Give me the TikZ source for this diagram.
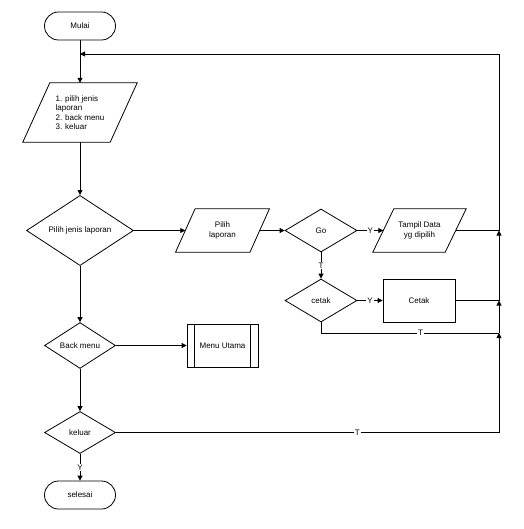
\documentclass[tikz,border=0pt]{standalone}
\usepackage{fontspec}
\setmainfont{Liberation Sans}
\usetikzlibrary{shapes.geometric,arrows.meta}
\begin{document}
\tikzset{
  base/.style={font=\fontsize{8}{9.5}\selectfont, inner sep=0pt, align=center},
  term/.style={base, draw, line width=0.8pt, rounded corners=14pt, minimum width=71pt, minimum height=28pt},
  dec/.style={base, draw, line width=0.8pt, diamond, minimum height=43pt},
  io/.style={base},
  proc/.style={base, draw, line width=0.8pt, minimum width=72pt, minimum height=43pt},
  shapeline/.style={line width=0.8pt},
  flow/.style={line width=0.8pt, -{Triangle[length=5pt,width=5pt]}},
  plain/.style={line width=0.8pt},
  lbl/.style={font=\fontsize{8}{9.5}\selectfont, fill=white, inner sep=1pt}
}
\begin{tikzpicture}[x=1pt,y=-1pt]
\useasboundingbox (0,0) rectangle (523,529);

% nodes
\node[term] (mulai) at (80,26) {Mulai};
\node[io, minimum width=87pt, minimum height=59pt, align=left] (p1) at (80,112.5) {1. pilih jenis\\laporan\\2. back menu\\3. keluar};
\draw[shapeline] ([xshift=13.5pt]p1.north west) -- ([xshift=13.5pt]p1.north east) -- ([xshift=-13.5pt]p1.south east) -- ([xshift=-13.5pt]p1.south west) -- cycle;

\node[dec, minimum width=107pt, minimum height=63pt] (d1) at (80,230.5) {Pilih jenis laporan};

\node[io, minimum width=74pt, minimum height=43pt] (pl) at (222.5,230.5) {Pilih\\laporan};
\draw[shapeline] ([xshift=9.75pt]pl.north west) -- ([xshift=9.75pt]pl.north east) -- ([xshift=-9.75pt]pl.south east) -- ([xshift=-9.75pt]pl.south west) -- cycle;

\node[dec, minimum width=72pt] (go) at (321,230.5) {Go};

\node[io, minimum width=72pt, minimum height=43pt] (td) at (419.5,230.5) {Tampil Data\\yg dipilih};
\draw[shapeline] ([xshift=10.5pt]td.north west) -- ([xshift=10.5pt]td.north east) -- ([xshift=-10.5pt]td.south east) -- ([xshift=-10.5pt]td.south west) -- cycle;

\node[dec, minimum width=72pt] (ck) at (321,300.5) {cetak};
\node[proc] (cetak) at (419,300.5) {Cetak};

\node[dec, minimum width=71pt] (bm) at (80,345.5) {Back menu};
\node[proc, minimum width=71pt] (mu) at (222.5,345.5) {Menu Utama};
\draw[shapeline] ([xshift=8pt]mu.north west) -- ([xshift=8pt]mu.south west);
\draw[shapeline] ([xshift=-8pt]mu.north east) -- ([xshift=-8pt]mu.south east);

\node[dec, minimum width=71pt, minimum height=42pt] (kel) at (80,432.5) {keluar};
\node[term] (selesai) at (80,495) {selesai};

% junctions on the right return line
\coordinate (jt) at (499,54);
\coordinate (j1) at (499,230.5);
\coordinate (j2) at (499,300.5);
\coordinate (j3) at (499,333);
\coordinate (j4) at (499,432.5);

% connectors
\draw[flow] (mulai) -- (p1);
\draw[flow] (p1) -- (d1);
\draw[flow] (d1) -- (pl);
\draw[flow] (pl) -- (go);
\draw[flow] (go) -- node[lbl]{Y} (td);
\draw[flow] (go) -- node[lbl]{T} (ck);
\draw[flow] (ck) -- node[lbl]{Y} (cetak);
\draw[plain] (td.east) -- (j1);
\draw[plain] (cetak.east) -- (j2);
\draw[plain] (ck.south) |- node[lbl,pos=0.78]{T} (j3);
\draw[plain] (kel.east) -- node[lbl,pos=0.63]{T} (j4);
\draw[flow] (j4) -- (j3);
\draw[flow] (j3) -- (j2);
\draw[flow] (j2) -- (j1);
\draw[flow] (j1) -- (jt) -- (mulai.south |- jt);
\draw[flow] (d1) -- (bm);
\draw[flow] (bm) -- (mu);
\draw[flow] (bm) -- (kel);
\draw[flow] (kel) -- node[lbl]{Y} (selesai);
\end{tikzpicture}
\end{document}
